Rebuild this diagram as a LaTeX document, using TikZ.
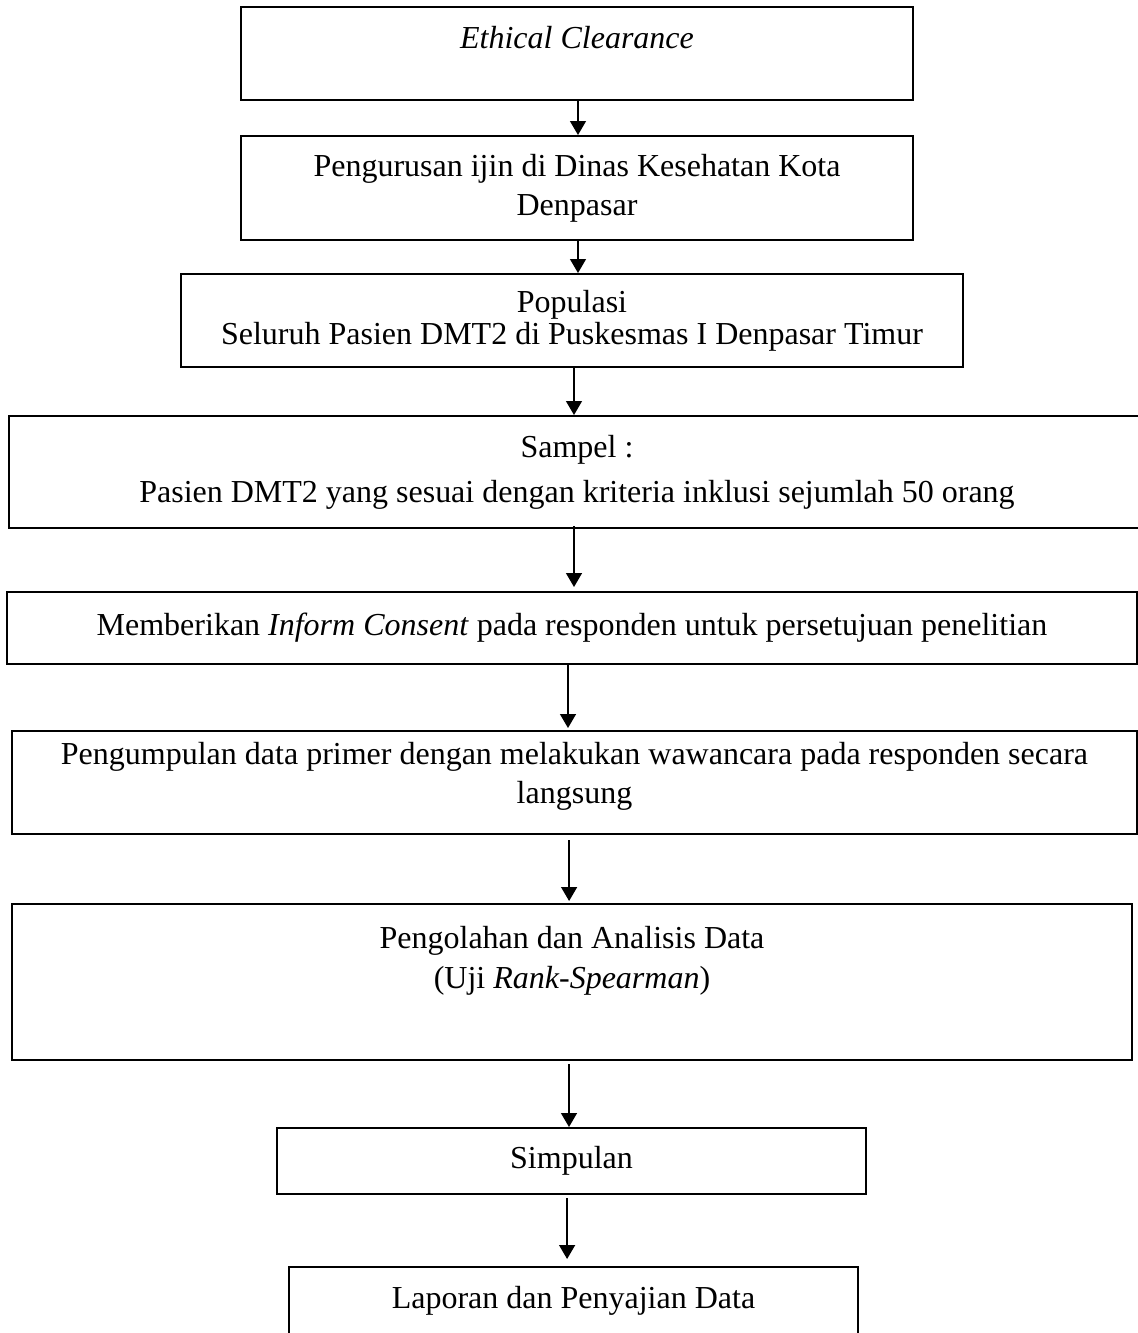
\documentclass[tikz,border=0pt]{standalone}
\usepackage{fontspec}
\setmainfont{Liberation Serif}
\usetikzlibrary{arrows.meta}

\begin{document}
\begin{tikzpicture}[x=0.5pt, y=-0.5pt,
    every node/.style={font=\fontsize{16}{19.5}\selectfont},
    box/.style={draw, line width=1pt, align=center, inner sep=0pt},
    arr/.style={line width=0.7pt, -{Triangle[length=7pt, width=8pt]}}]
        \useasboundingbox (0,0) rectangle (1138,1333);

        \node[box, minimum width=336pt, minimum height=46.5pt] (ethic) at (577,53.5) {\textit{Ethical Clearance}\\[-3.5pt]\mbox{}};
        \node[box, minimum width=336pt, minimum height=52pt] (ijin) at (577,188) {Pengurusan ijin di Dinas Kesehatan Kota\\Denpasar};
        \node[box, minimum width=391pt, minimum height=46.5pt] (popul) at (572,320.5) {Populasi\\[-3.5pt]Seluruh Pasien DMT2 di Puskesmas I Denpasar Timur};
        \node[box, minimum width=568pt, minimum height=56pt] (sampel) at (577,472) {Sampel :\\[3pt]Pasien DMT2 yang sesuai dengan kriteria inklusi sejumlah 50 orang};
        \node[box, minimum width=565pt, minimum height=36pt] (inform) at (572,628) {Memberikan \textit{Inform Consent} pada responden untuk persetujuan penelitian};
        \node[box, minimum width=562.5pt, minimum height=51.5pt] (kumpul) at (574.5,782.5) {Pengumpulan data primer dengan melakukan wawancara pada responden secara\\langsung\\[-9.5pt]\mbox{}};
        \node[box, minimum width=560pt, minimum height=78pt] (olah) at (572,982) {Pengolahan dan Analisis Data\\[0.5pt](Uji \textit{Rank-Spearman})\\[5.5pt]\mbox{}};
        \node[box, minimum width=294.5pt, minimum height=33pt] (simpul) at (571.5,1161) {Simpulan};
        \node[box, minimum width=284.5pt, minimum height=34pt] (lapor) at (573.5,1301) {Laporan dan Penyajian Data};

        % alur
        \draw[arr] ([xshift=0.5pt]ethic.south) -- ([xshift=0.5pt]ethic.south |- ijin.north);
        \draw[arr] ([xshift=0.5pt]ijin.south) -- ([xshift=0.5pt]ijin.south |- popul.north);
        \draw[arr] ([xshift=1pt]popul.south) -- ([xshift=1pt]popul.south |- sampel.north);
        \draw[arr, shorten >=2pt] ([xshift=-1.5pt, yshift=1.5pt]sampel.south) -- ([xshift=-1.5pt]sampel.south |- inform.north);
        \draw[arr, shorten >=1pt] ([xshift=-2pt]inform.south) -- ([xshift=-2pt]inform.south |- kumpul.north);
        \draw[arr, shorten <=2.5pt, shorten >=1pt] ([xshift=-2.7pt]kumpul.south) -- ([xshift=-2.7pt]kumpul.south |- olah.north);
        \draw[arr, shorten <=1.5pt] ([xshift=-1.5pt]olah.south) -- ([xshift=-1.5pt]olah.south |- simpul.north);
        \draw[arr, shorten <=1.5pt, shorten >=3.5pt] ([xshift=-2.2pt]simpul.south) -- ([xshift=-2.2pt]simpul.south |- lapor.north);
    \end{tikzpicture}
\end{document}
